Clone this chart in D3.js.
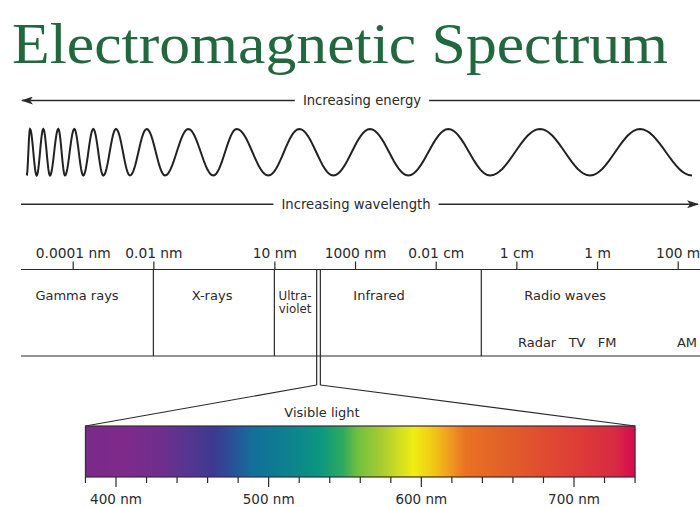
<!DOCTYPE html>
<html>
<head>
<meta charset="utf-8">
<script src="https://cdn.jsdelivr.net/npm/d3@7"></script>
<style>
  html, body { margin: 0; padding: 0; background: #fff; }
  svg { display: block; }
</style>
</head>
<body>
<svg id="chart" width="700" height="507"></svg>
<script>
// ---------------- DATA ----------------
const titleText = "Electromagnetic Spectrum";
const energyLabel = "Increasing energy";
const wavelengthLabel = "Increasing wavelength";

// wave extrema along the illustration, alternating trough/peak
const waveExtrema = [26.7, 30, 36.7, 43.3, 50, 58.3, 65, 74.3, 83.3, 93.3, 103.3, 116, 130,
  146.7, 165, 188.3, 213.3, 236.7, 268.3, 299.3, 333.3, 370, 408.3, 448.3, 490, 540, 590, 640, 692];

// wavelength axis (metres)
const tickValues = [1e-13, 1e-11, 1e-8, 1e-6, 1e-4, 1e-2, 1, 100];
const tickLabels = ["0.0001 nm", "0.01 nm", "10 nm", "1000 nm", "0.01 cm", "1 cm", "1 m", "100 m"];

// band boundaries (metres)
const bandBoundaries = [1e-11, 1e-8, 1.35e-3];
const visibleBand = [1.12e-7, 1.38e-7];

// band names and their positions (metres)
const bandNames = ["Gamma rays", "X-rays", "Infrared", "Radio waves"];
const bandNamePos = [1.28e-13, 2.85e-10, 3.93e-6, 1.61e-1];
const uvLines = ["Ultra-", "violet"];
const uvPos = 3.25e-8;
const radioSub = ["Radar", "TV", "FM", "AM"];
const radioSubPos = [3.26e-2, 0.32, 1.77, 170];

// visible light (nm)
const visibleLabel = "Visible light";
const visibleRange = [380, 740];
const visibleTicks = [380, 400, 420, 440, 460, 480, 500, 520, 540, 560, 580, 600, 620, 640, 660, 680, 700, 720, 740];
const visibleMajor = [400, 500, 600, 700];
const spectrumNm = [380, 405, 431, 442, 464, 475, 490, 512, 534, 549, 558, 574, 595, 609, 620, 629, 655, 679, 705, 727, 736, 740];
const spectrumColors = ["#7a2a88", "#7e2a8b", "#6e2e8d", "#5c3490", "#3c3a90", "#2c4e98", "#12709a", "#0e8090",
  "#0a9880", "#30aa60", "#6ec040", "#a8cc30", "#f0ee12", "#f0c414", "#ef9620", "#e87222", "#e26028",
  "#e04c30", "#dd3a38", "#d82a42", "#d8124a", "#d40c4a"];

// ---------------- DRAW ----------------
const svg = d3.select("#chart");
const sans = "'DejaVu Sans', 'Noto Sans', sans-serif";
const ink = "#2a2a2a";

// title
svg.append("text")
  .attr("x", 12).attr("y", 63)
  .attr("font-family", "'Liberation Serif', 'DejaVu Serif', serif")
  .attr("font-size", 58)
  .attr("fill", "#22683f")
  .attr("textLength", 656)
  .attr("lengthAdjust", "spacingAndGlyphs")
  .text(titleText);

// arrow markers
const defs = svg.append("defs");
defs.append("marker").attr("id", "ah")
  .attr("viewBox", "0 0 12 8").attr("refX", 11).attr("refY", 4)
  .attr("markerWidth", 12).attr("markerHeight", 8)
  .attr("markerUnits", "userSpaceOnUse")
  .attr("orient", "auto-start-reverse")
  .append("path").attr("d", "M0,0 L12,4 L0,8 L3,4 Z").attr("fill", ink);

function arrowWithLabel(y, cx, label, x0, x1, headLeft) {
  const t = svg.append("text")
    .attr("x", cx).attr("y", y + 4.5)
    .attr("text-anchor", "middle")
    .attr("font-family", sans).attr("font-size", 13.2)
    .attr("fill", ink).text(label);
  const w = t.node().getComputedTextLength();
  const l = svg.append("line").attr("x1", x0).attr("x2", cx - w / 2 - 8)
    .attr("y1", y).attr("y2", y).attr("stroke", ink).attr("stroke-width", 1.5);
  const r = svg.append("line").attr("x1", cx + w / 2 + 8).attr("x2", x1)
    .attr("y1", y).attr("y2", y).attr("stroke", ink).attr("stroke-width", 1.5);
  if (headLeft) l.attr("marker-start", "url(#ah)");
  else r.attr("marker-end", "url(#ah)");
}
arrowWithLabel(100.5, 362, energyLabel, 22, 700, true);
arrowWithLabel(204.3, 356, wavelengthLabel, 21, 698, false);

// wave
const waveX = d3.scaleLinear().domain([0, 700]).range([0, 700]);
const waveY = d3.scaleLinear().domain([-1, 1]).range([175.5, 129]);
const wavePts = [];
for (let i = 0; i < waveExtrema.length - 1; i++) {
  const a = waveExtrema[i], b = waveExtrema[i + 1];
  const sa = i % 2 === 0 ? -1 : 1;
  const n = 16;
  for (let k = (i === 0 ? 0 : 1); k <= n; k++) {
    const f = k / n;
    const val = sa * Math.cos(Math.PI * f);
    wavePts.push([waveX(a + (b - a) * f), waveY(val)]);
  }
}
svg.append("path").attr("d", d3.line()(wavePts))
  .attr("fill", "none").attr("stroke", "#222").attr("stroke-width", 2);

// spectrum axis
const x = d3.scaleLog().domain([1e-13, 100]).range([72.7, 677.7]);
const yTop = 269.5, yBot = 356;

svg.append("line").attr("x1", 21).attr("x2", 700).attr("y1", yTop).attr("y2", yTop)
  .attr("stroke", ink).attr("stroke-width", 1.2);
svg.append("line").attr("x1", 21).attr("x2", 700).attr("y1", yBot).attr("y2", yBot)
  .attr("stroke", ink).attr("stroke-width", 1.2);

const axis = d3.axisTop(x).tickValues(tickValues)
  .tickFormat((d, i) => tickLabels[i]).tickSize(8).tickPadding(4);
const axG = svg.append("g").attr("transform", `translate(0,${yTop})`).call(axis);
axG.select(".domain").remove();
axG.selectAll(".tick line").attr("stroke", ink).attr("stroke-width", 1.2);
axG.selectAll(".tick text").attr("font-family", sans).attr("font-size", 13.8).attr("fill", ink);

// boundaries
svg.selectAll("line.bound").data(bandBoundaries).enter().append("line")
  .attr("class", "bound")
  .attr("x1", d => x(d)).attr("x2", d => x(d))
  .attr("y1", yTop).attr("y2", yBot)
  .attr("stroke", ink).attr("stroke-width", 1.2);

// visible light double line
const yJoin = 385;
svg.selectAll("line.vis").data(visibleBand).enter().append("line")
  .attr("class", "vis")
  .attr("x1", d => x(d)).attr("x2", d => x(d))
  .attr("y1", yTop).attr("y2", yJoin)
  .attr("stroke", ink).attr("stroke-width", 1.2);

// band names
svg.selectAll("text.band").data(bandNames).enter().append("text")
  .attr("class", "band")
  .attr("x", (d, i) => x(bandNamePos[i])).attr("y", 300)
  .attr("text-anchor", "middle")
  .attr("font-family", sans).attr("font-size", 13).attr("fill", ink)
  .text(d => d);
svg.selectAll("text.uv").data(uvLines).enter().append("text")
  .attr("class", "uv")
  .attr("x", x(uvPos)).attr("y", (d, i) => 300 + i * 12.5)
  .attr("text-anchor", "middle")
  .attr("font-family", sans).attr("font-size", 11.8).attr("fill", ink)
  .text(d => d);
svg.selectAll("text.sub").data(radioSub).enter().append("text")
  .attr("class", "sub")
  .attr("x", (d, i) => x(radioSubPos[i])).attr("y", 347)
  .attr("text-anchor", "middle")
  .attr("font-family", sans).attr("font-size", 13).attr("fill", ink)
  .text(d => d);

// visible light bar
const v = d3.scaleLinear().domain([400, 700]).range([116, 574]);
const barTop = 426, barBot = 477;

svg.append("line").attr("x1", x(visibleBand[0])).attr("y1", yJoin)
  .attr("x2", v(visibleRange[0])).attr("y2", barTop)
  .attr("stroke", ink).attr("stroke-width", 1.2);
svg.append("line").attr("x1", x(visibleBand[1])).attr("y1", yJoin)
  .attr("x2", v(visibleRange[1])).attr("y2", barTop)
  .attr("stroke", ink).attr("stroke-width", 1.2);

const grad = defs.append("linearGradient").attr("id", "spec")
  .attr("gradientUnits", "userSpaceOnUse")
  .attr("x1", v(visibleRange[0])).attr("x2", v(visibleRange[1]))
  .attr("y1", 0).attr("y2", 0);
grad.selectAll("stop").data(spectrumNm).enter().append("stop")
  .attr("offset", d => (d - visibleRange[0]) / (visibleRange[1] - visibleRange[0]))
  .attr("stop-color", (d, i) => spectrumColors[i]);

svg.append("rect")
  .attr("x", v(visibleRange[0])).attr("y", barTop)
  .attr("width", v(visibleRange[1]) - v(visibleRange[0]))
  .attr("height", barBot - barTop)
  .attr("fill", "url(#spec)")
  .attr("stroke", "#3a2a3a").attr("stroke-width", 1.2);

svg.append("text").attr("x", 322).attr("y", 417)
  .attr("text-anchor", "middle")
  .attr("font-family", sans).attr("font-size", 13).attr("fill", ink)
  .text(visibleLabel);

svg.selectAll("line.vt").data(visibleTicks).enter().append("line")
  .attr("class", "vt")
  .attr("x1", d => v(d)).attr("x2", d => v(d))
  .attr("y1", barBot).attr("y2", d => visibleMajor.includes(d) ? barBot + 10 : barBot + 6)
  .attr("stroke", ink).attr("stroke-width", 1.2);

svg.selectAll("text.vl").data(visibleMajor).enter().append("text")
  .attr("class", "vl")
  .attr("x", d => v(d)).attr("y", 504)
  .attr("text-anchor", "middle")
  .attr("font-family", sans).attr("font-size", 13.5).attr("fill", ink)
  .text(d => d + " nm");
</script>
</body>
</html>
